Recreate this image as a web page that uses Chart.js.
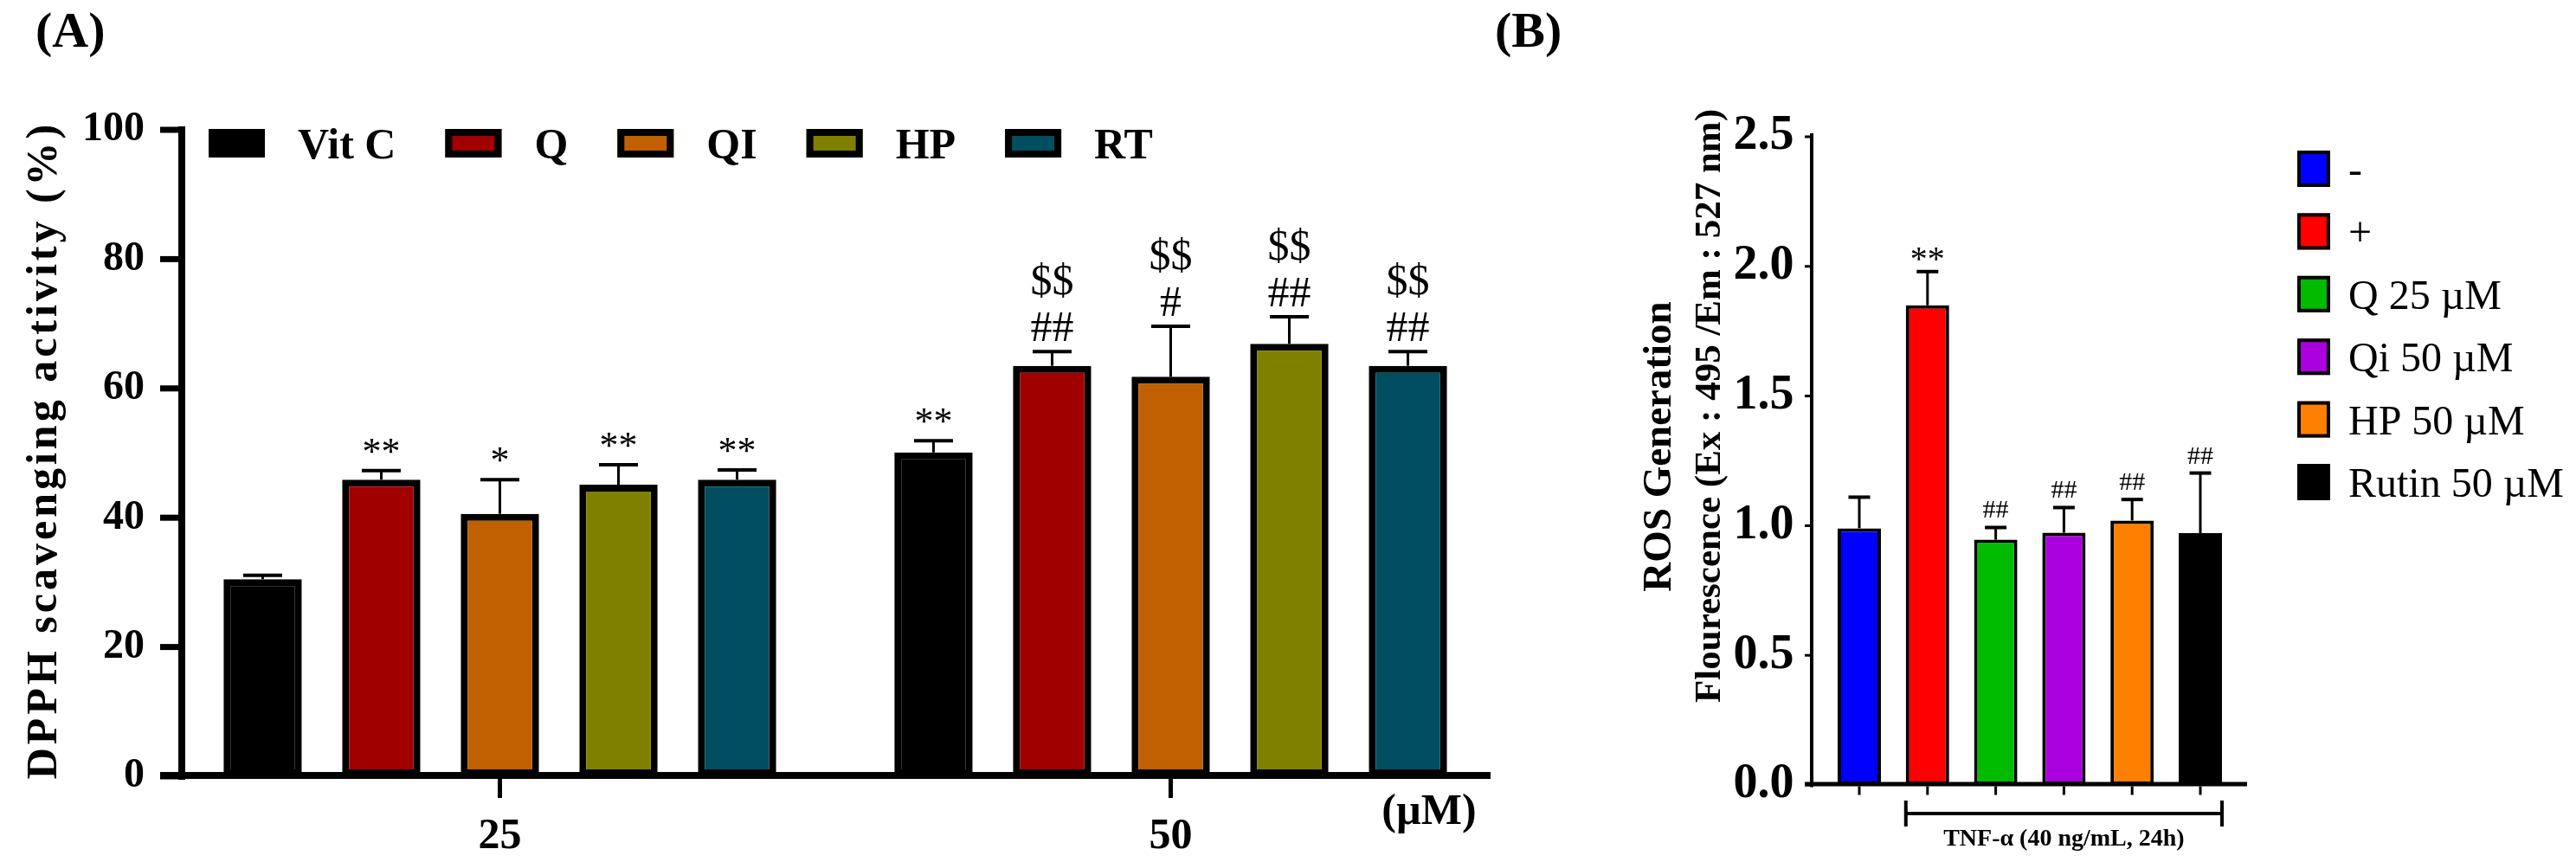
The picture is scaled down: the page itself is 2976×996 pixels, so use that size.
<!DOCTYPE html>
<html>
<head>
<meta charset="utf-8">
<script src="https://cdn.jsdelivr.net/npm/chart.js@4.4.0/dist/chart.umd.min.js"></script>
<style>
  html, body { margin: 0; padding: 0; background: #fff; }
  body { width: 2976px; height: 996px; position: relative; overflow: hidden; font-family: "Liberation Serif", serif; }
  canvas { position: absolute; left: 0; top: 0; }
  .txt { position: absolute; font-weight: bold; line-height: 1; white-space: nowrap; color: #000; }
</style>
</head>
<body>
<canvas id="chartA" width="2976" height="996"></canvas>
<canvas id="chartB" width="2976" height="996"></canvas>
<div class="txt" style="left:41px;top:6px;font-size:58px">(A)</div>
<div class="txt" style="left:1727px;top:6px;font-size:58px">(B)</div>
<div class="txt" style="left:1551px;top:910px;width:200px;text-align:center;font-size:50px">(µM)</div>
<script>
/* ---------- panel A : DPPH ---------- */
const doseLabels = ['25', '50'];
const vitC = [30.5, 50.1];
const quer = [45.9, 63.5];
const qi = [40.6, 61.8];
const hp = [45.1, 66.9];
const rt = [45.9, 63.5];
const vitCErr = [0.6, 1.8];
const querErr = [1.4, 2.2];
const qiErr = [5.3, 7.8];
const hpErr = [3.1, 4.2];
const rtErr = [1.5, 2.2];
const starA = [['', '**'], ['**', ''], ['*', ''], ['**', ''], ['**', '']];
const hashA = [['', ''], ['', '##'], ['', '#'], ['', '##'], ['', '##']];
const dollarA = [['', ''], ['', '$$'], ['', '$$'], ['', '$$'], ['', '$$']];
const yTicksA = [0, 20, 40, 60, 80, 100];
const yTitleA = 'DPPH scavenging activity (%)';

/* ---------- panel B : ROS ---------- */
const rosLabels = ['-', '+', 'Q 25 µM', 'Qi 50 µM', 'HP 50 µM', 'Rutin 50 µM'];
const rosValues = [0.99, 1.85, 0.946, 0.973, 1.02, 0.971];
const rosErr = [0.12, 0.13, 0.047, 0.097, 0.081, 0.232];
const rosStars = ['', '**', '', '', '', ''];
const rosHash = ['', '', '##', '##', '##', '##'];
const yTicksB = [0, 0.5, 1.0, 1.5, 2.0, 2.5];
const yTitleB = ['ROS Generation', 'Flourescence (Ex : 495 /Em : 527 nm)'];
const tnfLabel = 'TNF-α (40 ng/mL, 24h)';

const serif = '"Liberation Serif", "Times New Roman", serif';
Chart.defaults.font.family = serif;
Chart.defaults.color = '#000';

// axis lines drawn by hand so they can sit off the chart area like in Prism
function axesPlugin(o) {
  return {
    id: 'axesLines',
    afterDatasetsDraw(chart) {
      const { ctx, scales: { x, y } } = chart;
      const y0 = y.getPixelForValue(0);
      const yTop = y.getPixelForValue(y.max);
      ctx.save();
      ctx.strokeStyle = '#000';
      ctx.lineWidth = o.yW;
      ctx.beginPath(); ctx.moveTo(o.yAxisX, yTop - 4); ctx.lineTo(o.yAxisX, y0 + o.xW / 2); ctx.stroke();
      ctx.lineWidth = o.yTickW;
      y.ticks.forEach(t => {
        const py = y.getPixelForValue(t.value);
        ctx.beginPath(); ctx.moveTo(o.yAxisX - o.yTickLen, py); ctx.lineTo(o.yAxisX, py); ctx.stroke();
      });
      ctx.lineWidth = o.xW;
      ctx.beginPath(); ctx.moveTo(o.xStart, y0 - 1); ctx.lineTo(o.xEnd, y0 - 1); ctx.stroke();
      ctx.lineWidth = o.xTickW;
      chart.data.labels.forEach((l, i) => {
        const px = x.getPixelForValue(i);
        ctx.beginPath(); ctx.moveTo(px, y0 + o.xW / 2 - 1); ctx.lineTo(px, y0 + o.xW / 2 - 1 + o.xTickLen); ctx.stroke();
      });
      ctx.restore();
    }
  };
}

// upper error bars + significance marks
function errorPlugin(o) {
  return {
    id: 'errorBars',
    afterDatasetsDraw(chart) {
      const ctx = chart.ctx;
      const y = chart.scales.y;
      ctx.save();
      ctx.strokeStyle = '#000';
      ctx.fillStyle = '#000';
      ctx.textAlign = 'center';
      chart.data.datasets.forEach((ds, i) => {
        chart.getDatasetMeta(i).data.forEach((bar, j) => {
          const top = y.getPixelForValue(ds.data[j] + ds.err[j]);
          ctx.lineWidth = o.stem;
          ctx.beginPath(); ctx.moveTo(bar.x, bar.y); ctx.lineTo(bar.x, top); ctx.stroke();
          ctx.lineWidth = o.cap;
          ctx.beginPath(); ctx.moveTo(bar.x - o.capW / 2, top); ctx.lineTo(bar.x + o.capW / 2, top); ctx.stroke();
          ds.marks.forEach(m => {
            if (!m.text[j]) return;
            ctx.font = m.font;
            ctx.fillText(m.text[j], bar.x, top - m.lift);
          });
        });
      });
      ctx.restore();
    }
  };
}

function legendPlugin(o) {
  return {
    id: 'boxLegend',
    afterDraw(chart) {
      const ctx = chart.ctx;
      const sets = chart.data.datasets;
      const items = sets.length > 1
        ? sets.map(d => ({ text: d.label, fill: d.backgroundColor }))
        : chart.data.labels.map((l, i) => ({ text: l, fill: sets[0].backgroundColor[i] }));
      ctx.save();
      ctx.font = o.font;
      ctx.textAlign = 'left';
      let cx = o.x, cy = o.y;
      items.forEach(it => {
        ctx.fillStyle = it.fill;
        ctx.fillRect(cx, cy, o.boxW, o.boxH);
        ctx.lineWidth = o.border;
        ctx.strokeStyle = '#000';
        ctx.strokeRect(cx + o.border / 2, cy + o.border / 2, o.boxW - o.border, o.boxH - o.border);
        ctx.fillStyle = '#000';
        const tx = cx + o.boxW + o.textGap;
        ctx.fillText(it.text, tx, cy + o.boxH / 2 + o.drop);
        if (o.vertical) cy += o.stepY;
        else cx = tx + ctx.measureText(it.text).width + o.itemGap;
      });
      ctx.restore();
    }
  };
}

function titlePlugin(lines) {
  return {
    id: 'sideTitle',
    afterDraw(chart) {
      const ctx = chart.ctx;
      lines.forEach(l => {
        ctx.save();
        ctx.font = l.font;
        ctx.fillStyle = '#000';
        ctx.textAlign = 'center';
        ctx.letterSpacing = l.spacing || '0px';
        ctx.translate(l.x, l.y);
        ctx.rotate(-Math.PI / 2);
        ctx.fillText(l.text, 0, 0);
        ctx.restore();
      });
    }
  };
}

function bracketPlugin(o) {
  return {
    id: 'bracket',
    afterDraw(chart) {
      const ctx = chart.ctx;
      const bars = chart.getDatasetMeta(0).data;
      const x1 = bars[o.from].x - bars[o.from].width / 2;
      const x2 = bars[o.to].x + bars[o.to].width / 2;
      ctx.save();
      ctx.strokeStyle = '#000';
      ctx.lineWidth = o.w;
      ctx.beginPath();
      ctx.moveTo(x1, o.y); ctx.lineTo(x2, o.y);
      ctx.moveTo(x1, o.y - o.tick); ctx.lineTo(x1, o.y + o.tick);
      ctx.moveTo(x2, o.y - o.tick); ctx.lineTo(x2, o.y + o.tick);
      ctx.stroke();
      ctx.font = o.font;
      ctx.fillStyle = '#000';
      ctx.textAlign = 'center';
      ctx.fillText(o.text, (x1 + x2) / 2, o.textY);
      ctx.restore();
    }
  };
}

/* ---------- chart A ---------- */
const colorsA = ['#000000', '#a00000', '#c06000', '#808000', '#004e60'];
const namesA = ['Vit C', 'Q', 'QI', 'HP', 'RT'];
const valuesA = [vitC, quer, qi, hp, rt];
const errA = [vitCErr, querErr, qiErr, hpErr, rtErr];

const datasetsA = namesA.map((n, i) => ({
  label: n,
  data: valuesA[i],
  err: errA[i],
  marks: [
    { text: starA[i], font: '44px ' + serif, lift: 8 },
    { text: hashA[i], font: '50px ' + serif, lift: 12 },
    { text: dollarA[i], font: '50px ' + serif, lift: 66 }
  ],
  backgroundColor: colorsA[i],
  borderColor: '#000',
  borderWidth: 8,
  borderSkipped: false,
  barPercentage: 0.66,
  categoryPercentage: 0.884
}));

const chartA = new Chart(document.getElementById('chartA'), {
  type: 'bar',
  data: { labels: doseLabels, datasets: datasetsA },
  options: {
    responsive: false,
    animation: false,
    devicePixelRatio: 1,
    layout: { padding: { left: 0, right: 2976 - 1740, top: 150, bottom: 0 } },
    plugins: { legend: { display: false }, tooltip: { enabled: false } },
    scales: {
      x: {
        grid: { display: false },
        border: { display: false },
        ticks: { font: { size: 50, weight: 'bold' }, color: '#000', padding: 32 },
        afterFit: s => { s.height = 99; }
      },
      y: {
        min: 0,
        max: 100,
        grid: { display: false },
        border: { display: false },
        afterBuildTicks: s => { s.ticks = yTicksA.map(v => ({ value: v })); },
        ticks: { font: { size: 48, weight: 'bold' }, color: '#000', padding: 15, callback: v => String(v) },
        afterFit: s => { s.width = 190; }
      }
    }
  },
  plugins: [
    axesPlugin({ yAxisX: 210, yW: 8, yTickLen: 25, yTickW: 7, xStart: 185, xEnd: 1722, xW: 8, xTickLen: 22, xTickW: 5 }),
    errorPlugin({ stem: 3, cap: 4, capW: 45 }),
    legendPlugin({ x: 241, y: 149, boxW: 65, boxH: 33, border: 8, textGap: 38, itemGap: 57, drop: 17, font: 'bold 50px ' + serif }),
    titlePlugin([{ text: yTitleA, x: 65, y: 520, font: 'bold 50px ' + serif, spacing: '4px' }])
  ]
});

/* ---------- chart B ---------- */
const colorsB = ['#0000ff', '#ff0000', '#00bb00', '#aa00dd', '#ff8000', '#000000'];

const chartB = new Chart(document.getElementById('chartB'), {
  type: 'bar',
  data: {
    labels: rosLabels,
    datasets: [{
      label: 'ROS',
      data: rosValues,
      err: rosErr,
      marks: [
        { text: rosStars, font: '40px ' + serif, lift: 2 },
        { text: rosHash, font: '30px ' + serif, lift: 11 }
      ],
      backgroundColor: colorsB,
      borderColor: '#000',
      borderWidth: 4,
      borderSkipped: false,
      barPercentage: 0.635,
      categoryPercentage: 1
    }]
  },
  options: {
    responsive: false,
    animation: false,
    devicePixelRatio: 1,
    layout: { padding: { left: 1900, right: 2976 - 2581.4, top: 158, bottom: 0 } },
    plugins: { legend: { display: false }, tooltip: { enabled: false } },
    scales: {
      x: {
        grid: { display: false },
        border: { display: false },
        ticks: { display: false },
        afterFit: s => { s.height = 89; }
      },
      y: {
        min: 0,
        max: 2.5,
        grid: { display: false },
        border: { display: false },
        afterBuildTicks: s => { s.ticks = yTicksB.map(v => ({ value: v })); },
        ticks: { font: { size: 56, weight: 'bold' }, color: '#000', padding: 28, callback: v => v.toFixed(1) },
        afterFit: s => { s.width = 208.6; }
      }
    }
  },
  plugins: [
    axesPlugin({ yAxisX: 2093, yW: 4, yTickLen: 8, yTickW: 3, xStart: 2085, xEnd: 2596, xW: 5, xTickLen: 10, xTickW: 3 }),
    errorPlugin({ stem: 3, cap: 4, capW: 25 }),
    legendPlugin({ x: 2654, y: 174, boxW: 38, boxH: 42, border: 4, textGap: 21, stepY: 72.4, vertical: true, drop: 17, font: '48px ' + serif }),
    titlePlugin([
      { text: yTitleB[0], x: 1930, y: 516, font: 'bold 47px ' + serif },
      { text: yTitleB[1], x: 1987, y: 469, font: 'bold 43px ' + serif }
    ]),
    bracketPlugin({ from: 1, to: 5, y: 940, tick: 15, w: 4, text: tnfLabel, textY: 977, font: 'bold 28px ' + serif })
  ]
});
</script>
</body>
</html>
